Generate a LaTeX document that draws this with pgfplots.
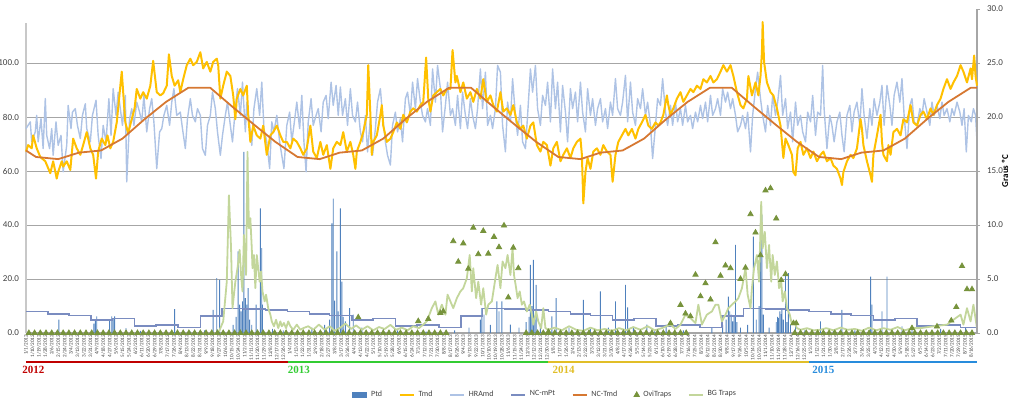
\documentclass[border=0pt]{standalone}
\usepackage{fontspec}
\setmainfont{Carlito}
\newfontfamily\yearfont{Liberation Serif}
\usepackage{pgfplots}
\usepackage{pgfcalendar}
\pgfplotsset{compat=1.18}

\definecolor{ptdc}{RGB}{79,129,189}
\definecolor{tmdc}{RGB}{255,192,0}
\definecolor{hrac}{RGB}{174,195,229}
\definecolor{ncptc}{RGB}{122,140,192}
\definecolor{nctc}{RGB}{214,120,50}
\definecolor{ovic}{RGB}{119,147,60}
\definecolor{bgc}{RGB}{195,214,155}
\definecolor{gridc}{RGB}{166,166,166}
\definecolor{axc}{RGB}{200,200,200}
\definecolor{labc}{RGB}{64,64,64}
\definecolor{ya}{RGB}{192,0,0}
\definecolor{yb}{RGB}{51,204,51}
\definecolor{yc}{RGB}{225,190,40}
\definecolor{yd}{RGB}{40,140,220}

\newcount\basejd
\pgfcalendardatetojulian{2012-01-01}{\basejd}
\newcommand\datelabel{\pgfmathtruncatemacro\ti{round(\tick)}\edef\jd{\the\numexpr\basejd+\ti\relax}\pgfcalendarjuliantodate{\jd}{\pyy}{\pmm}{\pdd}\number\pmm/\number\pdd/\pyy}

\begin{document}
\begin{tikzpicture}
\useasboundingbox (-13pt,-40.5pt) rectangle (499pt,166.5pt);
% ---------------- left axis ----------------
\begin{axis}[
  at={(0pt,0pt)}, anchor=south west,
  scale only axis, width=475.5pt, height=155.25pt,
  xmin=0, xmax=1331, ymin=0, ymax=115,
  axis x line*=bottom, axis y line*=left,
  axis line style={-},
  x axis line style={gridc, line width=0.6pt},
  y axis line style={axc, line width=0.6pt},
  ytick={0,20,...,100}, ymajorgrids,
  grid style={gridc, line width=0.5pt},
  major tick length=0pt,
  /pgf/number format/assume math mode=true,
  yticklabel style={font=\fontsize{4.5}{5}\selectfont, text=labc,
    /pgf/number format/fixed, /pgf/number format/fixed zerofill,
    /pgf/number format/precision=1},
  xtick={0,9,...,1331}, xticklabel={\datelabel},
  xticklabel style={rotate=90, anchor=east, font=\fontsize{2.6}{3}\selectfont, text=labc, inner sep=0.8pt},
  clip=false,
]
% Ptd (daily precipitation)
\addplot[ybar, bar width=1.3, fill=ptdc, draw=none, forget plot] coordinates {
(46,5.0)(95,3.5)(97,5.0)(99,6.2)(117,4.9)(120,6.2)(122,5.5)(124,6.2)(140,1.8)(160,0.8)(208,8.8)(230,0.5)(250,1.0)(262,8.6)(267,20.3)(271,19.7)
(290,3)(294,6)(297,30.2)(299,10.5)(301,8)(303,11.7)(305,67.1)(307,12.9)(309,10.5)(311,16.6)(313,5)(316,3)(322,10.5)(328,46.2)(330,31.4)(331,10.5)(345,1.5)(360,1)
(380,1.2)(400,2)(418,3)(425,5)(428,40.6)(430,49.8)(432,12)(435,30.2)(437,8)(440,46.2)(442,19)(444,6)(447,4.3)(453,9.2)(458,6.8)(470,2)(500,1.5)(520,1)(560,0.5)
(600,1.0)(620,2)(636,5)(638,9.2)(641,6.8)(650,3)(659,11.7)(662,8)(666,11.7)(678,3.1)(690,2)(700,4)(704,6)(706,25.2)(708,10)(710,27.1)(712,5)(714,17.8)(720,3)
(736,6.2)(742,12.9)(760,2)(780,12.3)(790,1.5)(804,15.4)(815,2)(825,11.7)(839,17.8)(842,9.5)(850,2)(869,3.1)(880,1)(896,3.1)(920,1)(960,2)
(975,3)(980,5)(983,13.5)(985,8)(987,6.8)(989,4.3)(991,6)(993,32.6)(995,4)(1000,2)(1010,3)(1018,35.7)(1022,5)(1026,10)(1028,47.4)(1030,43.7)(1032,6.8)
(1040,2)(1050,4)(1052,6)(1053,5.5)(1055,8.0)(1057,7)(1058,9.2)(1060,5)(1063,22.2)(1065,4)(1067,22.2)(1070,3)(1077,3.1)(1090,1)
(1112,4.3)(1130,1)(1142,8.6)(1160,1)(1182,20.9)(1184,10.5)(1198,8.0)(1205,20.9)(1226,2.5)(1240,1.8)(1260,1)(1280,1.5)(1300,1)(1315,2)
};
% HRAmd
\addplot[hrac, line width=0.7pt, line join=round, forget plot] coordinates {
(0,75.7)(6,78.2)(8,70.8)(13,74.5)(15,80.6)(17,70.8)(21,79.4)(24,68.3)(27,86.8)(29,73.2)(33,68.3)(36,75.7)(38,65.8)(42,78.2)(45,69.5)(49,73.2)(52,59.7)(57,69.5)(59,84.3)(63,75.7)(65,81.8)(69,83.1)(72,76.9)(76,72.0)(79,80.6)(83,84.9)(85,75.7)(90,70.8)(93,80.6)(98,86.2)(101,73.2)(105,64.6)(108,76.9)(112,70.8)(116,86.8)(119,73.2)(122,90.5)(126,80.6)(129,89.2)(132,83.1)(135,76.9)(139,88.0)(141,56.0)(145,79.4)(148,83.1)(151,76.9)(155,85.5)(159,81.8)(162,78.2)(165,88.0)(169,74.5)(173,83.1)(176,86.8)(179,78.2)(183,60.9)(187,74.5)(190,75.7)(193,80.6)(197,84.3)(201,76.9)(204,85.5)(207,90.5)(211,80.6)
(216,81.8)(219,75.7)(223,68.3)(226,79.4)(230,86.8)(233,80.6)(237,78.2)(240,83.1)(244,80.6)(247,68.3)(251,65.8)(254,76.9)(258,80.6)(261,89.2)(265,83.1)(268,74.5)(272,65.8)(275,73.2)(279,80.6)(282,85.5)(286,76.9)(289,70.8)(293,83.1)(296,90.5)(300,80.6)(303,92.9)(307,74.5)(309,85.5)(313,76.9)(316,69.5)(319,83.1)(323,90.5)(327,80.6)(330,92.9)(333,75.7)(337,70.8)(341,60.9)(344,78.2)(347,74.5)(351,80.6)(355,70.8)(358,65.8)(361,60.9)(365,76.9)(369,81.8)(372,70.8)(375,76.9)(379,85.5)(383,75.7)(386,88.0)(389,70.8)(392,59.7)(395,78.2)(399,86.8)(402,76.9)(406,80.6)(409,83.1)(413,74.5)(416,85.5)(420,88.0)(423,79.4)(427,92.9)(430,84.3)(434,91.7)(437,80.6)
(440,91.1)(443,80.6)(447,86.8)(450,76.9)(454,90.5)(457,80.6)(461,78.2)(464,85.5)(468,74.5)(471,70.8)(475,80.6)(478,67.1)(482,79.4)(485,65.8)(489,75.7)(492,85.5)(496,90.5)(499,80.6)(503,70.8)(506,65.8)(510,62.2)(513,76.9)(517,81.8)(520,74.5)(524,79.4)(527,70.8)(531,86.8)(534,89.2)(538,80.6)(541,92.9)(545,83.1)(548,94.2)(552,85.5)(555,80.6)(559,78.2)(562,83.1)(566,76.9)(569,97.8)(573,85.5)(576,99.1)(580,90.5)(583,74.5)(587,84.3)(590,92.9)(594,80.6)(597,83.1)(601,76.9)(604,88.0)(608,75.7)(611,89.2)(615,80.6)(618,75.7)(622,86.8)(625,80.6)(629,75.7)(632,83.1)(636,97.8)(639,83.1)(643,96.6)(646,76.9)(650,80.6)(653,75.7)(657,83.1)(660,99.1)
(664,96.6)(667,76.9)(671,67.1)(674,85.5)(678,78.2)(681,94.2)(685,80.6)(688,73.2)(692,84.3)(695,70.8)(699,68.3)(702,80.6)(706,97.8)(709,89.2)(713,99.1)(716,83.1)(720,76.9)(723,88.0)(727,84.3)(730,92.9)(734,78.2)(737,97.8)(741,83.1)(744,92.9)(748,74.5)(751,91.7)(755,81.8)(758,70.8)(762,90.5)(765,83.1)(769,89.2)(772,78.2)(776,92.9)(779,81.8)(783,74.5)(786,90.5)(790,80.6)(793,86.8)(797,76.9)(800,83.1)(804,86.8)(807,78.2)(811,83.1)(814,75.7)(818,85.5)(821,80.6)(825,94.2)(828,83.1)(832,80.6)(835,85.5)(839,95.4)(842,78.2)(846,92.9)(849,81.8)(853,76.9)(856,86.8)(860,83.1)(863,90.5)(867,80.6)(870,85.5)(874,76.9)(877,64.6)(881,76.9)(884,86.8)
(888,84.3)(891,94.2)(895,81.8)(898,76.9)(902,84.3)(905,76.9)(909,85.5)(912,78.2)(916,83.1)(919,76.9)(923,84.3)(926,78.2)(930,80.6)(933,75.7)(937,81.8)(940,78.2)(944,84.3)(947,79.4)(951,85.5)(954,78.2)(958,88.0)(961,80.6)(965,83.1)(968,86.8)(972,80.6)(975,90.5)(979,85.5)(982,89.2)(986,83.1)(989,86.8)(993,80.6)(996,74.5)(1000,76.9)(1003,80.6)(1007,75.7)(1010,81.8)(1014,67.1)(1017,80.6)(1021,90.5)(1024,96.6)(1028,86.8)(1031,80.6)(1035,74.5)(1038,84.3)(1042,76.9)(1045,88.0)(1049,80.6)(1052,85.5)(1056,95.4)(1059,80.6)(1063,86.8)(1066,75.7)(1070,81.8)(1073,70.8)(1077,85.5)(1080,76.9)(1084,80.6)(1087,74.5)(1091,70.8)(1094,81.8)(1098,78.2)(1101,88.0)(1105,73.2)(1108,81.8)
(1112,80.6)(1115,99.1)(1117,83.1)(1121,68.3)(1125,80.6)(1128,76.9)(1131,70.8)(1135,78.2)(1139,81.8)(1142,73.2)(1145,67.1)(1149,80.6)(1153,84.3)(1156,74.5)(1159,81.8)(1163,85.5)(1167,76.9)(1170,90.5)(1173,80.6)(1177,72.0)(1181,83.1)(1184,76.9)(1187,86.8)(1191,80.6)(1195,85.5)(1198,91.7)(1201,76.9)(1205,91.7)(1209,84.3)(1212,76.9)(1215,88.0)(1219,92.9)(1223,85.5)(1226,94.2)(1229,80.6)(1233,68.3)(1237,84.3)(1240,86.8)(1243,78.2)(1247,76.9)(1251,83.1)(1254,80.6)(1257,86.8)(1261,81.8)(1265,76.9)(1268,85.5)(1271,80.6)(1275,84.3)(1279,79.4)(1282,85.5)(1285,80.6)(1289,83.1)(1293,78.2)(1296,83.1)(1299,80.6)(1303,85.5)(1307,81.8)(1310,76.9)(1313,83.1)(1316,67.1)(1319,80.6)(1323,78.2)(1326,83.1)(1329,80.6)(1331,70.8)
};
% NC-mPt (monthly normal precipitation, step)
\addplot[ncptc, line width=0.8pt, const plot, forget plot] coordinates {
(0,7.9)(31,7.0)(60,6.5)(91,4.9)(121,5.4)(152,2.7)(182,2.9)(213,2.1)(244,6.3)(274,9.1)(305,8.9)(335,8.6)
(366,7.9)(397,7.0)(425,6.5)(456,4.9)(486,5.4)(517,2.7)(547,2.9)(578,2.1)(609,6.3)(639,9.1)(670,8.9)(700,8.6)
(731,7.9)(762,7.0)(790,6.5)(821,4.9)(851,5.4)(882,2.7)(912,2.9)(943,2.1)(974,6.3)(1004,9.1)(1035,8.9)(1065,8.6)
(1096,7.9)(1127,7.0)(1155,6.5)(1186,4.9)(1216,5.4)(1247,2.7)(1277,2.9)(1308,2.1)(1331,2.1)
};
% BG Traps
\addplot[bgc, line width=0.9pt, line join=round, forget plot] coordinates {
(270,0.5)(276,4.3)(281,19)(284,51)(287,31.4)(289,9.2)(293,19)(296,24)(299,30.8)(301,21.5)(303,15.4)(305,36.3)(308,21.5)(310,67.1)(312,38.8)(314,42.5)(316,31.4)(317,24)(319,28.9)(321,16.6)(323,28.9)(325,24)(327,19)(329,22.8)(331,15.4)(334,11.7)(336,14.2)(339,9.2)(342,6.8)(344,4.3)(347,2.5)(350,4.9)(353,1.8)(356,4.3)(358,2.5)(361,3.7)(364,1.8)(367,4.3)(370,2.5)(374,1.2)(379,3.1)(384,1.2)(388,1.8)(395,2.5)(402,1.2)(410,3.1)(418,1.2)(425,2.5)(432,0.8)(440,2.0)(447,3.5)(455,1.5)(462,2.8)(470,1.2)(478,2.5)(486,1.0)(494,2.2)(502,1.5)(510,3.0)(518,1.2)(526,2.0)(534,1.0)(542,2.5)(550,1.8)
(561,4.3)(568,9.2)(573,11.7)(577,6.8)(582,10.5)(587,6.8)(590,14.2)(594,11.7)(598,9.2)(603,12.9)(608,15.4)(612,16.6)(617,20.3)(621,28.9)(624,15.4)(626,24)(630,12.9)(633,19)(637,10.5)(640,16.6)(644,6.8)(647,10.5)(652,11.7)(657,20.3)(660,25.2)(664,16.6)(667,26.5)(671,24)(674,28.9)(678,21.5)(681,31.4)(683,21.5)(686,16.6)(688,12.9)(691,15.4)(694,10.5)(697,11.7)(701,8.0)(705,10.5)(708,6.8)(710,3.1)(714,8.0)(717,4.3)(721,1.8)(724,9.2)(727,1.8)(731,1.2)
(740,2.0)(750,1.0)(760,2.5)(770,1.2)(780,0.8)(790,2.0)(800,1.0)(810,1.5)(820,0.8)(830,1.8)(840,1.0)(850,2.2)(860,1.2)(870,2.5)(880,1.0)(890,1.8)(902,3.1)(909,1.5)
(916,3.1)(923,6.8)(930,5.5)(937,3.7)(941,10.5)(946,3.1)(953,6.8)(960,8.0)(965,10.5)(969,10.5)(974,4.3)(979,6.8)(983,9.2)(988,10.5)(993,11.7)(997,12.9)(1002,16.6)(1007,24)(1010,14.2)(1014,9.2)(1016,16.6)(1019,24)(1023,28.9)(1026,19)(1029,48.6)(1031,31.4)(1034,37.5)(1037,24)(1040,32.6)(1043,19)(1045,28.9)(1048,21.5)(1051,26.5)(1054,16.6)(1057,19)(1059,11.7)(1062,15.4)(1065,9.2)(1069,6.8)(1072,3.1)(1075,4.3)(1079,1.8)(1084,1.2)(1093,1.8)(1102,1.0)
(1112,1.2)(1120,1.8)(1130,1.0)(1140,2.0)(1150,1.2)(1160,1.5)(1170,0.8)(1180,2.0)(1190,1.0)(1200,1.8)(1210,1.2)(1220,2.2)(1230,1.0)(1240,1.8)(1252,1.8)(1270,2.5)(1289,3.1)(1298,4.9)(1308,6.8)(1312,3.1)(1317,9.2)(1322,4.3)(1326,10.5)(1331,1.8)
};
% year bands
\draw[ya, line width=1pt] ([yshift=-14.5pt]axis cs:0,0) -- ([yshift=-14.5pt]axis cs:366,0);
\draw[yb, line width=1pt] ([yshift=-14.5pt]axis cs:366,0) -- ([yshift=-14.5pt]axis cs:731,0);
\draw[yc, line width=1pt] ([yshift=-14.5pt]axis cs:731,0) -- ([yshift=-14.5pt]axis cs:1096,0);
\draw[yd, line width=1pt] ([yshift=-14.5pt]axis cs:1096,0) -- ([yshift=-14.5pt]axis cs:1331,0);
\node[anchor=north west, inner sep=0pt, text=ya, font=\yearfont\bfseries\fontsize{5.5}{6}\selectfont] at ([yshift=-16.5pt,xshift=-2pt]axis cs:0,0) {2012};
\node[anchor=north west, inner sep=0pt, text=yb, font=\yearfont\bfseries\fontsize{5.5}{6}\selectfont] at ([yshift=-16.5pt]axis cs:366,0) {2013};
\node[anchor=north west, inner sep=0pt, text=yc, font=\yearfont\bfseries\fontsize{5.5}{6}\selectfont] at ([yshift=-16.5pt,xshift=2pt]axis cs:731,0) {2014};
\node[anchor=north west, inner sep=0pt, text=yd, font=\yearfont\bfseries\fontsize{5.5}{6}\selectfont] at ([yshift=-16.5pt,xshift=1.5pt]axis cs:1096,0) {2015};
\end{axis}
% ---------------- right axis (degrees C) ----------------
\begin{axis}[
  at={(0pt,0pt)}, anchor=south west,
  scale only axis, width=475.5pt, height=162pt,
  xmin=0, xmax=1331, ymin=0, ymax=30,
  axis x line=none, axis y line*=right,
  axis line style={-, gridc, line width=0.8pt},
  ytick={0,5,...,30},
  major tick length=1.5pt, tick align=outside, ytick style={gridc},
  /pgf/number format/assume math mode=true,
  yticklabel style={font=\fontsize{4.5}{5}\selectfont, text=labc,
    /pgf/number format/fixed, /pgf/number format/fixed zerofill,
    /pgf/number format/precision=1},
  ylabel={Graus ºC},
  ylabel style={font=\bfseries\fontsize{4.5}{5}\selectfont, text=black, at={(axis description cs:1.0294,0.5)}, anchor=center},
  clip=false,
  legend columns=-1,
  legend style={at={(0.547,-0.191)}, anchor=center, draw=none, fill=none,
    font=\fontsize{4}{5}\selectfont, text=labc, inner sep=0pt,
    /tikz/every even column/.append style={column sep=6.4pt}},
  legend image code/.code={\draw[mark repeat=2,mark phase=2] plot coordinates {(0pt,0pt)(3.5pt,0pt)(7pt,0pt)};},
]
\addlegendimage{legend image code/.code={\fill[ptdc] (0pt,-1.2pt) rectangle (7pt,1.2pt);}}
\addlegendentry{Ptd}
\addlegendimage{tmdc, line width=0.8pt}
\addlegendentry{Tmd}
\addlegendimage{hrac, line width=0.8pt}
\addlegendentry{HRAmd}
\addlegendimage{ncptc, line width=0.8pt}
\addlegendentry{NC-mPt}
\addlegendimage{nctc, line width=0.8pt}
\addlegendentry{NC-Tmd}
\addlegendimage{only marks, mark=triangle*, mark size=1.5pt, color=ovic}
\addlegendentry{OviTraps}
\addlegendimage{bgc, line width=0.8pt}
\addlegendentry{BG Traps}
% Tmd (daily mean temperature, deg C)
\addplot[tmdc, line width=1pt, line join=round, forget plot] coordinates {
(0,16.8)(3,17.4)(8,17.1)(10,18.3)(15,17.1)(20,16.3)(27,15.9)(34,14.8)(38,15.9)(43,14.3)(45,14.9)(50,15.9)(52,15.4)(57,15.9)(62,15.1)(66,18.0)(71,17.1)(76,16.5)(80,17.4)(85,18.6)(90,17.1)(94,16.5)(98,14.3)(101,16.8)(106,18.0)(111,17.4)(114,18.3)(118,17.1)(122,17.7)(127,19.5)(134,24.2)(139,19.5)(143,18.5)(148,19.8)(152,20.8)(155,22.6)(160,21.7)(164,22.3)(169,21.7)(174,22.9)(178,25.2)(183,22.3)(188,22.0)(192,22.2)(197,22.9)(200,25.8)(204,23.8)(208,22.9)(213,23.4)
(216,22.3)(220,23.5)(225,24.8)(230,25.4)(234,24.8)(239,25.1)(244,26.0)(248,24.5)(253,25.1)(258,24.2)(262,25.1)(267,25.4)(269,24.8)(272,21.7)(276,22.9)(281,24.2)(286,23.8)(290,22.0)(293,19.8)(295,21.7)(300,22.6)(304,22.0)(309,22.9)(311,20.2)(314,17.7)(318,19.2)(323,18.3)(328,18.0)(332,19.2)(337,16.5)(342,18.3)(346,18.6)(351,19.2)(356,18.3)(360,17.7)(365,17.7)(370,17.1)(374,18.0)(379,17.7)(384,17.1)(388,16.5)(393,17.1)(398,19.2)(402,16.8)(407,16.2)(412,17.7)(416,16.5)(421,17.4)(426,15.2)(430,17.1)(435,17.7)
(440,17.4)(444,18.6)(449,16.8)(454,17.7)(458,16.5)(461,15.2)(463,16.8)(468,17.7)(472,18.6)(477,20.2)(479,24.8)(482,20.2)(484,16.5)(486,17.7)(491,18.3)(496,20.2)(498,21.1)(500,19.2)(505,17.7)(510,18.0)(514,18.6)(519,19.5)(524,18.9)(528,20.2)(533,19.5)(538,20.5)(542,20.8)(547,20.5)(552,21.1)(556,21.4)(560,25.5)(563,21.7)(566,20.5)(570,22.0)(575,22.3)(580,22.6)(584,22.0)(589,22.6)(594,22.6)(597,26.2)(601,23.2)(603,23.8)(608,22.3)(612,23.2)(617,21.7)(622,22.3)(626,21.4)(631,22.6)(636,21.7)(640,23.5)(645,21.4)(650,22.0)(654,21.1)(659,20.5)(664,22.3)
(668,20.5)(673,20.8)(678,20.2)(682,21.1)(687,19.5)(692,18.9)(696,19.2)(701,18.0)(706,19.2)(710,19.5)(715,17.4)(720,16.8)(724,17.7)(729,17.4)(734,15.5)(738,17.1)(743,17.7)(748,15.9)(752,16.5)(757,17.1)(762,16.2)(766,17.1)(771,17.7)(776,18.0)(778,16.5)(780,12.0)(783,14.9)(786,16.2)(790,15.2)(794,16.8)(799,17.1)(804,16.5)(808,17.4)(813,16.8)(818,16.5)(821,14.0)(825,16.5)(829,17.7)(834,18.3)(839,18.9)(843,18.3)(848,18.9)(853,18.0)(857,18.9)(862,19.5)(867,20.2)(871,19.2)(876,18.9)(881,19.5)(885,19.2)
(888,19.5)(892,20.2)(897,22.0)(899,21.1)(902,20.2)(906,20.8)(911,21.7)(916,22.3)(920,21.4)(925,22.0)(930,22.6)(934,22.3)(939,22.9)(944,22.6)(948,23.5)(953,23.2)(958,23.8)(962,23.2)(967,23.5)(972,24.2)(976,24.8)(981,24.2)(986,24.8)(990,23.8)(995,22.3)(1000,21.1)(1004,20.8)(1009,21.7)(1011,23.8)(1016,22.0)(1021,23.2)(1025,22.0)(1028,23.8)(1030,26.0)(1031,28.8)(1033,25.1)(1037,23.2)(1042,22.3)(1046,22.0)(1051,20.8)(1056,19.2)(1060,16.2)(1063,18.0)(1067,17.4)(1072,16.5)(1074,14.9)(1077,14.6)(1080,17.1)(1084,17.7)(1088,16.5)(1093,17.1)(1098,16.2)(1102,16.8)(1107,15.9)
(1112,16.5)(1116,16.8)(1121,15.9)(1126,16.2)(1130,15.5)(1135,15.2)(1140,14.3)(1142,13.7)(1144,14.9)(1149,15.9)(1154,16.5)(1158,16.2)(1163,17.1)(1168,19.8)(1170,18.9)(1172,17.4)(1177,15.9)(1182,14.6)(1184,14.0)(1186,16.5)(1191,18.3)(1196,20.2)(1198,17.7)(1200,16.5)(1205,15.9)(1207,17.4)(1210,16.5)(1214,18.6)(1219,18.9)(1224,18.3)(1228,19.8)(1233,19.5)(1238,21.1)(1242,19.5)(1247,19.2)(1252,20.2)(1256,20.5)(1261,19.8)(1266,20.8)(1270,20.2)(1275,21.1)(1280,21.7)(1284,22.6)(1289,23.5)(1294,22.6)(1298,23.2)(1303,23.8)(1308,24.8)(1312,24.2)(1317,23.2)(1322,24.5)(1324,23.5)(1327,25.7)(1329,23.8)(1331,22.9)
};
% NC-Tmd (climatological normal, deg C)
\addplot[nctc, line width=0.9pt, line join=round, forget plot] coordinates {
(0,16.9)(14,16.3)(45,16.1)(74,16.7)(105,16.9)(135,18.0)(166,19.8)(196,21.4)(227,22.7)(258,22.7)(288,21.0)(319,19.3)(349,17.7)
(380,16.3)(411,16.1)(439,16.7)(470,16.9)(500,18.0)(531,19.8)(561,21.4)(592,22.7)(623,22.7)(653,21.0)(684,19.3)(714,17.7)
(745,16.3)(776,16.1)(804,16.7)(835,16.9)(865,18.0)(896,19.8)(926,21.4)(957,22.7)(988,22.7)(1018,21.0)(1049,19.3)(1079,17.7)
(1110,16.3)(1141,16.1)(1169,16.7)(1200,16.9)(1230,18.0)(1261,19.8)(1291,21.4)(1322,22.7)(1331,22.7)
};
% OviTraps
\addplot[only marks, mark=triangle*, mark size=1.5pt, color=ovic, forget plot] coordinates {
(4,0)(12,0)(20,0)(28,0)(36,0)(44,0)(52,0)(60,0)(68,0)(76,0)(84,0)(92,0)(100,0)(108,0)(116,0)(124,0)(132,0)(140,0)(148,0)(156,0)(164,0)(172,0)(180,0)(188,0)(196,0)(204,0)(212,0)(220,0)(228,0)(236,0)(244,0)(252,0)(260,0)(268,0)(276,0)(284,0)(292,0)(300,0)(308,0)(316,0)(324,0)(332,0)(340,0)(348,0)(356,0)(364,0)(372,0)(380,0)(388,0)(396,0)(404,0)(412,0)(420,0)(428,0)(436,0)(444,0)(452,0)(460,0)(468,0)(476,0)(484,0)(492,0)(500,0)(508,0)(516,0)(524,0)(532,0)(540,0)(548,0)(556,0)(564,0)(572,0)(580,0)(588,0)
(700,0)(708,0)(716,0)(724,0)(732,0)(740,0)(748,0)(756,0)(764,0)(772,0)(780,0)(788,0)(796,0)(804,0)(812,0)(820,0)(828,0)(836,0)(844,0)(852,0)(860,0)(868,0)(876,0)(884,0)(892,0)(900,0)(908,0)(916,0)(924,0)
(1076,0)(1084,0)(1092,0)(1100,0)(1108,0)(1116,0)(1124,0)(1132,0)(1140,0)(1148,0)(1156,0)(1164,0)(1172,0)(1180,0)(1188,0)(1196,0)(1204,0)(1212,0)(1220,0)(1228,0)(1236,0)(1244,0)(1252,0)(1260,0)(1268,0)(1276,0)(1284,0)(1292,0)(1300,0)(1308,0)(1316,0)(1324,0)
(465,1.45)(549,1.1)(563,1.3)(580,1.85)(584,2.0)(598,8.5)(605,6.6)(612,8.3)(619,5.95)(626,9.75)(633,7.3)(640,9.45)(647,7.35)(655,8.9)(662,7.95)(669,9.95)(675,3.3)(682,7.9)(689,6.0)(731,0.1)
(902,0.9)(916,2.6)(923,1.8)(930,1.55)(937,5.4)(944,3.4)(951,4.6)(958,3.1)(965,8.4)(972,5.3)(979,6.25)(986,6.0)(1000,5.0)(1007,6.05)(1014,11.0)(1021,9.3)(1028,7.2)(1035,13.2)(1042,13.4)(1050,10.6)(1057,4.9)(1063,5.45)(1074,0.9)(1078,0.9)
(1240,0.45)(1275,0.6)(1295,1.15)(1302,2.4)(1310,6.2)(1317,4.05)(1324,4.05)
};
\end{axis}
\end{tikzpicture}
\end{document}
